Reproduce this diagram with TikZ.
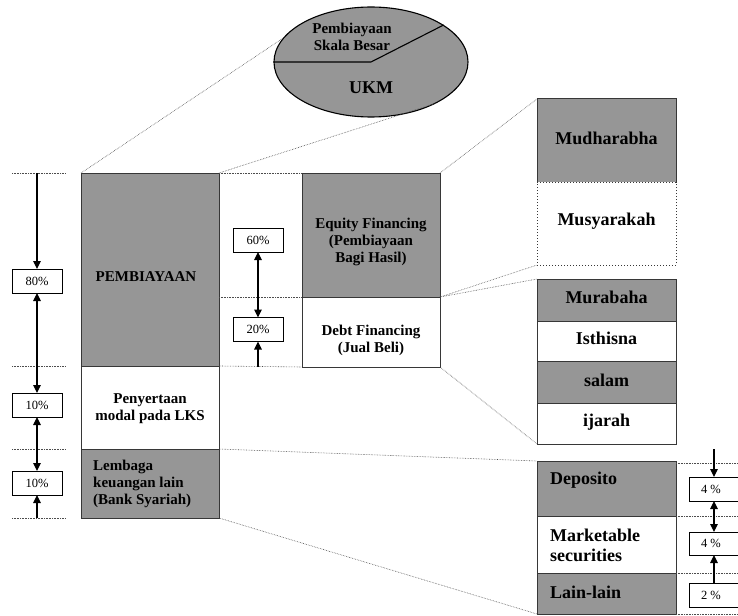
\documentclass[tikz,border=0pt]{standalone}
\usepackage{fontspec}
\setmainfont{Liberation Serif}
\usetikzlibrary{shapes.geometric,arrows.meta}
\definecolor{boxgray}{RGB}{150,150,150}
\definecolor{edgecol}{RGB}{55,55,55}
\begin{document}
\begin{tikzpicture}[x=1pt,y=-1pt,
 bx/.style={draw=edgecol,line width=1pt,inner sep=0pt,outer sep=0pt,anchor=north west},
 gbx/.style={bx,fill=boxgray},
 wbx/.style={bx,fill=white},
 pbx/.style={draw=black,line width=0.9pt,fill=white,inner sep=0pt,outer sep=0pt,minimum width=50pt,minimum height=24pt,font=\fontsize{12.5}{14}\selectfont},
 lbl/.style={font=\fontsize{15}{17}\selectfont\bfseries,inner sep=0pt,align=center},
 big/.style={font=\fontsize{18}{20}\selectfont\bfseries,inner sep=0pt,align=center},
 pct/.style={font=\fontsize{12.5}{14}\selectfont,inner sep=0pt},
 dots/.style={densely dotted,line width=0.6pt,black!70},
 arr/.style={-{Triangle[length=8pt,width=7.5pt]},line width=1.1pt},
 darr/.style={{Triangle[length=8pt,width=7.5pt]}-{Triangle[length=8pt,width=7.5pt]},line width=1.1pt}]
\useasboundingbox (0,0) rectangle (738,615);

% ellipse
\node[ellipse,draw=black,line width=1.1pt,fill=boxgray,minimum width=194pt,minimum height=110pt,inner sep=0pt] (ell) at (371,62) {};
\draw[line width=1.1pt] (ell.west) -- (ell.center) -- (ell.27);
\node[lbl] (tskala) at (352,36.5) {Pembiayaan\\Skala Besar};
\node[big] (tukm) at (371,88) {UKM};

% left column
\node[gbx,minimum width=138pt,minimum height=193pt] (peb) at (81,173) {};
\node[wbx,minimum width=138pt,minimum height=83pt] (pen) at (81,366) {};
\node[gbx,minimum width=138pt,minimum height=69pt] (lem) at (81,449) {};
\node[lbl] (tpeb) at (146,277) {PEMBIAYAAN};
\node[lbl] (tpen) at (150,409) {Penyertaan\\modal pada LKS};
\node[lbl,anchor=west,align=left] (tlem) at (93,483.5) {Lembaga\\keuangan lain\\(Bank Syariah)};

% middle column
\node[gbx,minimum width=138pt,minimum height=124pt] (eq) at (302,173) {};
\node[wbx,minimum width=138pt,minimum height=70pt] (debt) at (302,297) {};
\node[lbl] (teq) at (371,241.5) {Equity Financing\\(Pembiayaan\\Bagi Hasil)};
\node[lbl] (tdebt) at (371,340) {Debt Financing\\(Jual Beli)};

% right column
\node[gbx,minimum width=139pt,minimum height=83pt] (mud) at (537,99) {};
\node[wbx,dotted,minimum width=139pt,minimum height=83pt] (mus) at (537,182) {};
\node[big] (tmud) at (606.5,138) {Mudharabha};
\node[big] (tmus) at (606.5,221) {Musyarakah};

\node[gbx,minimum width=139pt,minimum height=42pt] (mur) at (537,279) {};
\node[wbx,minimum width=139pt,minimum height=40pt] (ist) at (537,321) {};
\node[gbx,minimum width=139pt,minimum height=42pt] (sal) at (537,361) {};
\node[wbx,minimum width=139pt,minimum height=41pt] (ija) at (537,403) {};
\node[big] (tmur) at (606.5,297) {Murabaha};
\node[big] (tist) at (606.5,338) {Isthisna};
\node[big] (tsal) at (606.5,380) {salam};
\node[big] (tija) at (606.5,422) {ijarah};

\node[gbx,minimum width=139pt,minimum height=55pt] (dep) at (537,461) {};
\node[wbx,minimum width=139pt,minimum height=57pt] (mar) at (537,516) {};
\node[gbx,minimum width=139pt,minimum height=41pt] (lain) at (537,573) {};
\node[big,anchor=west] (tdep) at (550,480) {Deposito};
\node[big,anchor=west,align=left] (tmar) at (550,545) {Marketable\\securities};
\node[big,anchor=west] (tlain) at (550,592) {Lain-lain};

% dotted guide lines
\draw[dots] (12,173) -- (66,173);
\draw[dots] (12,366) -- (66,366);
\draw[dots] (12,449) -- (66,449);
\draw[dots] (12,518) -- (66,518);
\draw[dots] (peb.north east) -- (eq.north west);
\draw[dots] (peb.east |- eq.south west) -- (eq.south west);
\draw[dots] (pen.north east) -- (debt.south west);
\draw[dots] (mud.east |- 0,463) -- (738,463);
\draw[dots] (mar.north east) -- (738,516);
\draw[dots] (lain.north east) -- (738,573);
\draw[dots] (lain.south east) -- (738,614);

% zoom connectors
\draw[dots] (peb.north west) -- (ell.165);
\draw[dots] (peb.north east) -- (ell.-32);
\draw[dots] (eq.north east) -- (mud.north west);
\draw[dots] (eq.south east) -- (mus.south west);
\draw[dots] (debt.north east) -- (mur.north west);
\draw[dots] (debt.south east) -- (ija.south west);
\draw[dots] (pen.south east) -- (dep.north west);
\draw[dots] (lem.south east) -- (lain.south west);

% percentage boxes left
\node[pbx] (p80) at (37,281) {80\%};
\node[pbx] (p10a) at (37,405) {10\%};
\node[pbx] (p10b) at (37,483) {10\%};
\coordinate (cl1) at (37,173);
\coordinate (cl2) at (37,518);
\draw[arr] (cl1) -- (p80.north);
\draw[darr] (p80.south) -- (p10a.north);
\draw[darr] (p10a.south) -- (p10b.north);
\draw[arr] (cl2) -- (p10b.south);

% percentage boxes middle
\node[pbx] (p60) at (258,240) {60\%};
\node[pbx] (p20) at (258,329.5) {20\%};
\coordinate (cm) at (258,367);
\draw[darr] (p60.south) -- (p20.north);
\draw[arr] (cm) -- (p20.south);

% percentage boxes right
\node[pbx,minimum width=56pt] (q4a) at (717,489) {};
\node[pbx,minimum width=56pt,minimum height=23pt] (q4b) at (717,543.5) {};
\node[pbx,minimum width=56pt] (q2) at (717,595) {};
\node[pct] (tq4a) at (711,489) {4 \%};
\node[pct] (tq4b) at (711,543.5) {4 \%};
\node[pct] (tq2) at (711,595) {2 \%};
\coordinate (cr1) at (714,449);
\draw[arr] (cr1) -- (cr1 |- q4a.north);
\draw[darr] (cr1 |- q4a.south) -- (cr1 |- q4b.north);
\draw[arr] (cr1 |- q2.north) -- (cr1 |- q4b.south);
\end{tikzpicture}
\end{document}
